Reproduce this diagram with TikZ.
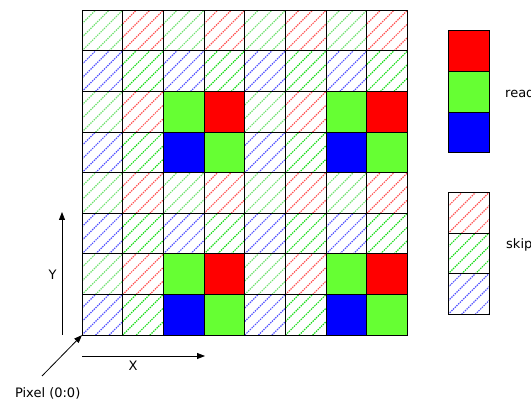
\documentclass[tikz,border=0pt]{standalone}
\usepackage{fontspec}
\setmainfont{DejaVu Sans}
\usetikzlibrary{arrows.meta}
\definecolor{solR}{RGB}{255,0,0}
\definecolor{solG}{RGB}{102,255,51}
\definecolor{solB}{RGB}{0,0,255}
\definecolor{hatR}{RGB}{255,80,80}
\definecolor{hatGp}{RGB}{110,225,110}
\definecolor{hatG}{RGB}{20,220,20}
\definecolor{hatB}{RGB}{80,80,255}
\begin{document}
\begin{tikzpicture}[x=1pt,y=-1pt,
  cell/.style={draw=black, line width=1pt, minimum width=40.7pt, minimum height=40.6pt,
    inner sep=0pt, outer sep=0pt, anchor=north west},
  hatchlines/.style={path picture={
      \foreach \k in {-3,...,3}{
        \draw[#1, line width=1.2pt, dash pattern=on 1.4pt off 1pt]
          ([xshift=\k*13.57pt]path picture bounding box.south west) -- ++(45:62pt);}}},
  hatchR/.style={hatchlines=hatR},
  hatchG/.style={hatchlines=hatGp},
  hatchGb/.style={hatchlines=hatG},
  hatchB/.style={hatchlines=hatB},
  solidR/.style={fill=solR},
  solidG/.style={fill=solG},
  solidB/.style={fill=solB},
  arr/.style={line width=0.8pt, -{Triangle[length=8pt,width=6pt]}},
  lbl/.style={font=\fontsize{13}{15}\selectfont, inner sep=0pt}
]
\useasboundingbox (0,0) rectangle (531,403);
\clip (0,0) rectangle (531,403);

% pixel grid
\foreach \r/\row in {
  0/{hatchG,hatchR,hatchG,hatchR,hatchG,hatchR,hatchG,hatchR},
  1/{hatchB,hatchGb,hatchB,hatchGb,hatchB,hatchGb,hatchB,hatchGb},
  2/{hatchG,hatchR,solidG,solidR,hatchG,hatchR,solidG,solidR},
  3/{hatchB,hatchGb,solidB,solidG,hatchB,hatchGb,solidB,solidG},
  4/{hatchG,hatchR,hatchG,hatchR,hatchG,hatchR,hatchG,hatchR},
  5/{hatchB,hatchGb,hatchB,hatchGb,hatchB,hatchGb,hatchB,hatchGb},
  6/{hatchG,hatchR,solidG,solidR,hatchG,hatchR,solidG,solidR},
  7/{hatchB,hatchGb,solidB,solidG,hatchB,hatchGb,solidB,solidG}}{
  \foreach \t [count=\c from 0] in \row {
    \node[cell,\t] (cell-\r-\c) at ({82+\c*40.7},{10.3+\r*40.6}) {};
  }
}

% legend: read
\node[cell,solidR,minimum width=41pt,minimum height=40.6pt] (legR) at (448,31) {};
\node[cell,solidG,minimum width=41pt,minimum height=40.6pt] (legG) at (448,71.6) {};
\node[cell,solidB,minimum width=41pt,minimum height=40.6pt] (legB) at (448,112.2) {};
\node[lbl,anchor=west] (readlbl) at (505,92.5) {read};

% legend: skip
\node[cell,hatchR,minimum width=41pt,minimum height=40.5pt] (skR) at (448,193) {};
\node[cell,hatchGb,minimum width=41pt,minimum height=40.5pt] (skG) at (448,233.5) {};
\node[cell,hatchB,minimum width=41pt,minimum height=40.5pt] (skB) at (448,274) {};
\node[lbl,anchor=west] (skiplbl) at (506,245) {skip};

% axes
\coordinate (ybase) at (62,335);
\coordinate (ytip) at (62,212);
\draw[arr] (ybase) -- (ytip);
\node[lbl] (ylbl) at (52.5,275) {Y};

\coordinate (xbase) at (82,356);
\coordinate (xtip) at (205,356);
\draw[arr] (xbase) -- (xtip);
\node[lbl] (xlbl) at (133,366) {X};

\node[lbl] (pix) at (47.7,393.5) {Pixel (0:0)};
\coordinate (ptail) at (42,376);
\draw[arr] (ptail) -- (cell-7-0.south west);
\end{tikzpicture}
\end{document}
